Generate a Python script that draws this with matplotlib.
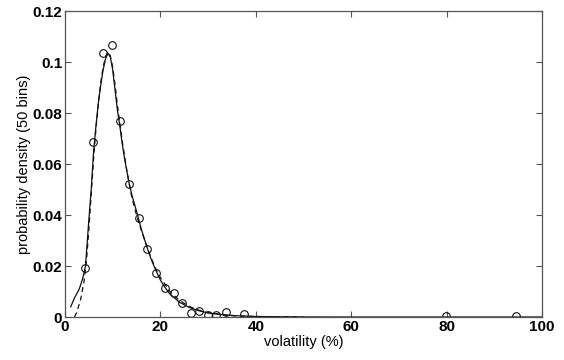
import matplotlib
matplotlib.use('Agg')

import numpy as np
import matplotlib.pyplot as plt

# histogram points (circles)
vol_pts = [4.2, 5.9, 7.9, 9.8, 11.6, 13.5, 15.5, 17.2, 19.1, 21.0, 22.8, 24.6,
           26.4, 28.0, 30.0, 31.7, 33.8, 37.5, 79.8, 94.6]
dens_pts = [0.0193, 0.0686, 0.1035, 0.1067, 0.0768, 0.0520, 0.0390, 0.0267,
            0.0172, 0.0113, 0.0093, 0.0056, 0.0017, 0.0022, 0.0009, 0.0009,
            0.0020, 0.0010, 0.0005, 0.0005]

# solid fitted curve
vol_solid = [1.2, 2.0, 3.0, 3.7, 4.3, 5.0, 5.5, 6.0, 6.5, 7.0, 7.5, 8.0, 8.5,
             9.0, 9.5, 10.0, 10.5, 11.0, 11.5, 12.0, 12.5, 13.0, 13.5, 14.0,
             15.0, 16.0, 17.0, 18.0, 19.0, 20.0, 21.0, 22.0, 24.0, 26.0, 28.0,
             30.0, 33.0, 36.0, 40.0, 50.0, 60.0, 100.0]
dens_solid = [0.0040, 0.0075, 0.0110, 0.0150, 0.0200, 0.0380, 0.0500, 0.0650,
              0.0750, 0.0840, 0.0910, 0.0970, 0.1012, 0.1035, 0.1020, 0.0970,
              0.0890, 0.0810, 0.0750, 0.0680, 0.0620, 0.0570, 0.0520, 0.0480,
              0.0415, 0.0345, 0.0285, 0.0230, 0.0185, 0.0145, 0.0115, 0.0090,
              0.0058, 0.0038, 0.0025, 0.0016, 0.0009, 0.0005, 0.0002, 0.00003,
              0.0, 0.0]

# dashed fitted curve
vol_dash = [2.0, 2.5, 3.3, 4.0, 4.5, 5.0, 5.5, 6.0, 6.5, 7.0, 7.5, 8.0, 8.5,
            9.0, 9.5, 10.0, 10.5, 11.0, 11.5, 12.0, 13.0, 14.0, 15.0, 16.0,
            17.0, 18.0, 19.0, 20.0, 22.0, 24.0, 26.0, 28.0, 30.0, 35.0, 40.0,
            50.0]
dens_dash = [0.0, 0.0020, 0.0070, 0.0140, 0.0220, 0.0340, 0.0480, 0.0620,
             0.0740, 0.0840, 0.0920, 0.0980, 0.1020, 0.1040, 0.1025, 0.0980,
             0.0910, 0.0830, 0.0760, 0.0690, 0.0570, 0.0470, 0.0400, 0.0340,
             0.0285, 0.0235, 0.0190, 0.0155, 0.0100, 0.0065, 0.0042, 0.0027,
             0.0017, 0.0005, 0.0002, 0.0]

plt.rcParams['font.family'] = ['Liberation Sans', 'DejaVu Sans']

fig = plt.figure(figsize=(5.64, 3.6), dpi=100)
ax = fig.add_axes([0.1152, 0.1194, 0.8458, 0.8500])

ax.plot(vol_solid, dens_solid, color='#111111', lw=0.9)
ax.plot(vol_dash, dens_dash, color='#111111', lw=0.9, ls=(0, (4, 3)))
ax.plot(vol_pts, dens_pts, 'o', mfc='none', mec='#111111', ms=5.5, mew=0.8)

ax.set_xlim(0, 100)
ax.set_ylim(0, 0.12)
ax.set_xticks(np.arange(0, 101, 20))
ax.set_yticks(np.arange(0, 0.121, 0.02))
ax.set_yticklabels(['0', '0.02', '0.04', '0.06', '0.08', '0.1', '0.12'])

ax.tick_params(direction='in', top=True, right=True, length=4, width=0.8,
               color='#555555', labelsize=11, pad=2)
for lbl in ax.get_xticklabels() + ax.get_yticklabels():
    lbl.set_fontweight('bold')
for s in ax.spines.values():
    s.set_color('#555555')
    s.set_linewidth(0.9)

ax.set_xlabel('volatility (%)', fontsize=10.5, labelpad=1)
ax.set_ylabel('probability density (50 bins)', fontsize=10.5, labelpad=1)

plt.savefig('out.png', dpi=100)
